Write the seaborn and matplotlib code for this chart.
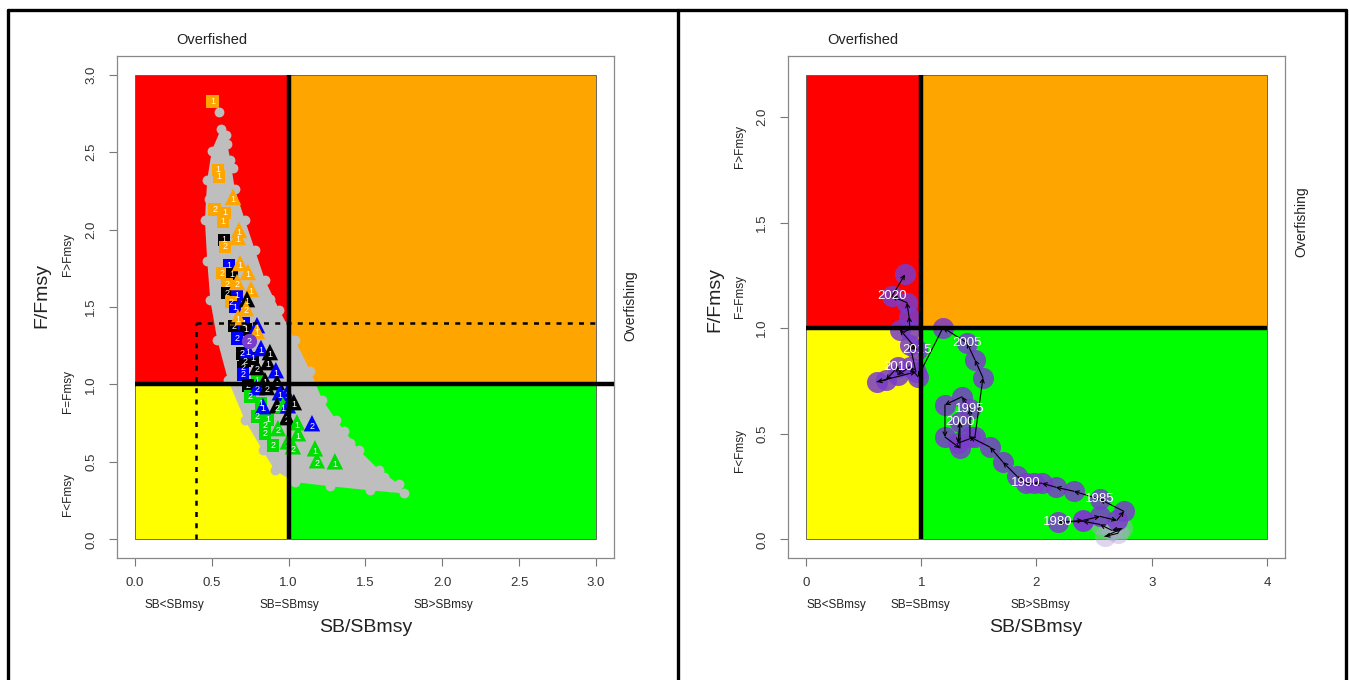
import numpy as np
import pandas as pd
import matplotlib
matplotlib.use('Agg')
import matplotlib.pyplot as plt
from matplotlib.patches import Rectangle
from matplotlib.lines import Line2D
import seaborn as sns

# ---- left panel: outline of the grey cloud of iterations (SB/SBmsy, F/Fmsy)
cloud_x = [0.56, 0.50, 0.47, 0.455, 0.47, 0.49, 0.535, 0.605, 0.715, 0.83, 0.91, 1.04,
           1.27, 1.53, 1.75, 1.72, 1.59, 1.46, 1.31, 1.22, 1.14, 1.04, 0.94, 0.846,
           0.78, 0.716, 0.65, 0.62, 0.59]
cloud_y = [2.65, 2.51, 2.32, 2.06, 1.80, 1.545, 1.29, 1.03, 0.77, 0.575, 0.446, 0.37,
           0.343, 0.317, 0.297, 0.355, 0.446, 0.575, 0.77, 0.90, 1.09, 1.29, 1.48, 1.674,
           1.87, 2.06, 2.26, 2.45, 2.61]
cloud_extra_x = [0.55, 0.60, 0.64, 0.48, 0.68, 1.66, 1.40, 1.10, 0.97, 0.88, 1.62, 1.36]
cloud_extra_y = [2.76, 2.55, 2.40, 2.20, 1.92, 0.34, 0.62, 1.05, 1.38, 1.55, 0.40, 0.70]

# ---- left panel: labelled stock-status markers
mk_x = [0.507, 0.540, 0.547, 0.638, 0.520, 0.586, 0.573, 0.677, 0.670, 0.579,
        0.586, 0.612, 0.683, 0.735, 0.566, 0.631, 0.599, 0.664, 0.755, 0.599,
        0.664, 0.729, 0.625, 0.651, 0.722, 0.670, 0.644, 0.709, 0.722, 0.794,
        0.794, 0.664, 0.742, 0.735, 0.820, 0.878, 0.696, 0.716, 0.768, 0.865,
        0.703, 0.703, 0.794, 0.917, 0.794, 0.846, 0.735, 0.794, 0.859, 0.924,
        0.943, 0.989, 0.748, 0.820, 0.833, 0.924, 0.963, 0.995, 1.034, 0.794,
        0.865, 0.989, 1.054, 1.152, 0.846, 0.846, 0.930, 1.061, 0.898, 0.995,
        1.028, 1.171, 1.184, 1.301]
mk_y = [2.825, 2.385, 2.340, 2.211, 2.127, 2.107, 2.049, 1.997, 1.952, 1.933,
        1.888, 1.771, 1.784, 1.726, 1.719, 1.713, 1.648, 1.661, 1.616, 1.590,
        1.577, 1.551, 1.532, 1.500, 1.493, 1.435, 1.377, 1.396, 1.357, 1.383,
        1.345, 1.299, 1.280, 1.222, 1.235, 1.209, 1.202, 1.151, 1.170, 1.144,
        1.112, 1.067, 1.112, 1.092, 1.028, 1.028, 0.995, 0.983, 0.983, 1.015,
        0.950, 0.944, 0.924, 0.879, 0.860, 0.866, 0.866, 0.866, 0.886, 0.795,
        0.776, 0.789, 0.756, 0.750, 0.737, 0.685, 0.718, 0.685, 0.608, 0.633,
        0.601, 0.588, 0.511, 0.504]
mk_shape = list('ssstssstts' 'ssttssstts' 'stssttssst' 'tsotttssst'
                'ssttststtt' 'ttssttttts' 'stttssttst' 'tttt')
mk_group = ['orange', 'orange', 'orange', 'orange', 'orange', 'orange', 'orange', 'orange', 'orange', 'black',
            'orange', 'blue', 'orange', 'orange', 'orange', 'black', 'orange', 'orange', 'orange', 'black',
            'blue', 'black', 'orange', 'blue', 'orange', 'orange', 'black', 'blue', 'black', 'blue',
            'orange', 'blue', 'purple', 'blue', 'blue', 'black', 'black', 'black', 'black', 'black',
            'black', 'blue', 'black', 'blue', 'green', 'black', 'black', 'blue', 'black', 'black',
            'blue', 'blue', 'green', 'green', 'blue', 'black', 'green', 'blue', 'black', 'green',
            'green', 'black', 'green', 'blue', 'green', 'green', 'green', 'green', 'green', 'green',
            'green', 'green', 'green', 'green']
mk_label = ['1', '1', '1', '1', '2', '1', '1', '1', '1', '1',
            '2', '1', '1', '1', '2', '1', '2', '2', '1', '2',
            '1', '1', '2', '1', '2', '1', '2', '1', '1', '1',
            '1', '2', '2', '1', '1', '1', '2', '2', '1', '1',
            '2', '2', '2', '1', '1', '1', '2', '2', '2', '1',
            '1', '1', '2', '1', '1', '2', '1', '1', '1', '2',
            '1', '2', '1', '2', '2', '2', '2', '1', '2', '2',
            '2', '1', '2', '1']

# ---- right panel: yearly trajectory
traj_year = list(range(1974, 2022))
traj_x = [2.707, 2.594, 2.742, 2.655, 2.551, 2.403, 2.187, 2.403, 2.551, 2.698,
          2.759, 2.551, 2.325, 2.169, 2.048, 1.978, 1.909, 1.831, 1.709, 1.597,
          1.423, 1.423, 1.354, 1.206, 1.206, 1.336, 1.336, 1.319, 1.466, 1.536,
          1.466, 1.397, 1.189, 0.972, 0.902, 0.798, 0.798, 0.694, 0.616, 0.954,
          0.902, 0.963, 0.816, 0.902, 0.894, 0.876, 0.746, 0.859]
traj_y = [0.029, 0.014, 0.052, 0.043, 0.071, 0.086, 0.081, 0.090, 0.109, 0.090,
          0.133, 0.190, 0.228, 0.247, 0.266, 0.266, 0.266, 0.299, 0.366, 0.437,
          0.485, 0.618, 0.675, 0.637, 0.485, 0.432, 0.556, 0.456, 0.485, 0.765,
          0.850, 0.931, 1.002, 0.770, 0.817, 0.779, 0.817, 0.755, 0.746, 0.793,
          0.922, 0.898, 0.993, 0.993, 1.055, 1.121, 1.150, 1.254]
label_years = [1980, 1985, 1990, 1995, 2000, 2005, 2010, 2015, 2020]
FIRST_FULL_YEAR = 1979

# reference points / limits of the plots
LEFT_MAX = 3.0
RIGHT_XMAX, RIGHT_YMAX = 4.0, 2.2
BLIM = 0.4
FLIM = 1.4

sns.set_style('white')
plt.rcParams['font.family'] = ['Liberation Sans', 'DejaVu Sans']

W, H = 1349, 680
fig = plt.figure(figsize=(W / 100, H / 100), dpi=100)
ax1 = fig.add_axes([0.0864, 0.1794, 0.3690, 0.7382])
ax2 = fig.add_axes([0.5838, 0.1794, 0.3690, 0.7382])

quad_colors = {'red': '#FF0000', 'orange': '#FFA500', 'yellow': '#FFFF00', 'green': '#00FF00'}


def kobe_background(ax, xmax, ymax, hline_end):
    kw = dict(edgecolor='#555555', linewidth=0.6, zorder=0)
    ax.add_patch(Rectangle((0, 1), 1, ymax - 1, facecolor=quad_colors['red'], **kw))
    ax.add_patch(Rectangle((1, 1), xmax - 1, ymax - 1, facecolor=quad_colors['orange'], **kw))
    ax.add_patch(Rectangle((0, 0), 1, 1, facecolor=quad_colors['yellow'], **kw))
    ax.add_patch(Rectangle((1, 0), xmax - 1, 1, facecolor=quad_colors['green'], **kw))
    ax.plot([0, hline_end], [1, 1], color='black', lw=3.2, zorder=6, solid_capstyle='butt')
    ax.plot([1, 1], [0, ymax], color='black', lw=3.2, zorder=6, solid_capstyle='butt')


def style_axes(ax, xlim, ylim, xticks, xlabels, yticks, ylabels):
    ax.set_xlim(*xlim)
    ax.set_ylim(*ylim)
    ax.set_xticks(xticks)
    ax.set_xticklabels(xlabels)
    ax.set_yticks(yticks)
    ax.set_yticklabels(ylabels, rotation=90, va='center')
    ax.tick_params(direction='out', length=6, width=0.8, color='#777777',
                   labelsize=9.5, labelcolor='#333333', pad=8)
    ax.tick_params(axis='both', which='both', bottom=True, left=True)
    for sp in ax.spines.values():
        sp.set_color('#888888')
        sp.set_linewidth(0.9)
    ax.set_xlabel('')
    ax.set_ylabel('')


# ---------------- left panel
kobe_background(ax1, LEFT_MAX, LEFT_MAX, 3.12)
ax1.plot([BLIM, BLIM], [0, FLIM], color='black', lw=1.8, ls=(0, (2, 2.5)), zorder=7)
ax1.plot([BLIM, LEFT_MAX], [FLIM, FLIM], color='black', lw=1.8, ls=(0, (2, 2.5)), zorder=7)

ax1.fill(cloud_x, cloud_y, color='#BEBEBE', zorder=2, lw=0)
cloud = pd.DataFrame({'x': cloud_x + cloud_extra_x, 'y': cloud_y + cloud_extra_y})
sns.scatterplot(data=cloud, x='x', y='y', ax=ax1, color='#BEBEBE', s=50,
                linewidth=0, legend=False, zorder=2)

markers = pd.DataFrame({'x': mk_x, 'y': mk_y, 'shape': mk_shape,
                        'group': mk_group, 'label': mk_label})
mk_palette = {'orange': '#FFA500', 'black': '#000000', 'blue': '#0000FF',
              'green': '#00DD00', 'purple': '#7A3CCB'}
shape_map = {'s': 's', 't': '^', 'o': 'o'}
size_map = {'s': 85, 't': 140, 'o': 120}
for shp in ['s', 't', 'o']:
    sub = markers[markers['shape'] == shp]
    sns.scatterplot(data=sub, x='x', y='y', hue='group', palette=mk_palette,
                    marker=shape_map[shp], s=size_map[shp], linewidth=0,
                    legend=False, ax=ax1, zorder=4)
for _, r in markers.iterrows():
    dy = -0.018 if r['shape'] == 't' else 0.0
    ax1.text(r['x'], r['y'] + dy, r['label'], color='white', fontsize=6.5,
             ha='center', va='center', zorder=5)

style_axes(ax1, (-0.12, 3.12), (-0.12, 3.12),
           np.arange(0, 3.01, 0.5), ['0.0', '0.5', '1.0', '1.5', '2.0', '2.5', '3.0'],
           np.arange(0, 3.01, 0.5), ['0.0', '0.5', '1.0', '1.5', '2.0', '2.5', '3.0'])

# ---------------- right panel
kobe_background(ax2, RIGHT_XMAX, RIGHT_YMAX, RIGHT_XMAX)
traj = pd.DataFrame({'year': traj_year, 'x': traj_x, 'y': traj_y})
early = traj[traj['year'] < FIRST_FULL_YEAR]
main = traj[traj['year'] >= FIRST_FULL_YEAR]
sns.scatterplot(data=early, x='x', y='y', ax=ax2, color='#B9A3D9', alpha=0.45,
                s=230, linewidth=0, legend=False, zorder=3)
sns.scatterplot(data=main, x='x', y='y', ax=ax2, color='#7A3CCB', alpha=0.85,
                s=230, linewidth=0, legend=False, zorder=3)
for i in range(len(traj) - 1):
    ax2.annotate('', xy=(traj_x[i + 1], traj_y[i + 1]), xytext=(traj_x[i], traj_y[i]),
                 arrowprops=dict(arrowstyle='->', color='black', lw=0.8,
                                 shrinkA=0, shrinkB=0, mutation_scale=7),
                 zorder=4)
for _, r in traj[traj['year'].isin(label_years)].iterrows():
    ax2.text(r['x'], r['y'], str(int(r['year'])), color='white', fontsize=9.5,
             ha='center', va='center', zorder=5)

style_axes(ax2, (-0.16, 4.16), (-0.088, 2.288),
           [0, 1, 2, 3, 4], ['0', '1', '2', '3', '4'],
           np.arange(0, 2.01, 0.5), ['0.0', '0.5', '1.0', '1.5', '2.0'])


# ---------------- figure texts (pixel positions from the reference)
def ftext(px, py, s, **kw):
    fig.text(px / W, 1 - py / H, s, ha='center', va='center', color='#222222', **kw)


for fx, lab_pos, sb_pos, ov_pos, fy_pos, flab in [
        (68, [255, 392, 495], [174, 289, 443], (630, 306), (42, 296), (366, 628)),
        (740, [147, 297, 450], [836, 920, 1040], (1301, 222), (715, 300), (1036, 628))]:
    for py, s in zip(lab_pos, ['F>Fmsy', 'F=Fmsy', 'F<Fmsy']):
        ftext(fx, py, s, fontsize=8.5, rotation=90)
    for px, s in zip(sb_pos, ['SB<SBmsy', 'SB=SBmsy', 'SB>SBmsy']):
        ftext(px, 605, s, fontsize=8.5)
    ftext(ov_pos[0], ov_pos[1], 'Overfishing', fontsize=10, rotation=90)
    ftext(fy_pos[0], fy_pos[1], 'F/Fmsy', fontsize=14, rotation=90)
    ftext(flab[0], flab[1], 'SB/SBmsy', fontsize=14)

ftext(212, 40, 'Overfished', fontsize=10.5)
ftext(863, 40, 'Overfished', fontsize=10.5)

# panel borders
for xs, ys in [([8, 1346], [10, 10]), ([8, 8], [10, 680]),
               ([678, 678], [10, 680]), ([1346, 1346], [10, 680])]:
    fig.add_artist(Line2D([x / W for x in xs], [1 - y / H for y in ys],
                          color='black', lw=2.4))

plt.savefig('out.png', dpi=100, facecolor='white')
